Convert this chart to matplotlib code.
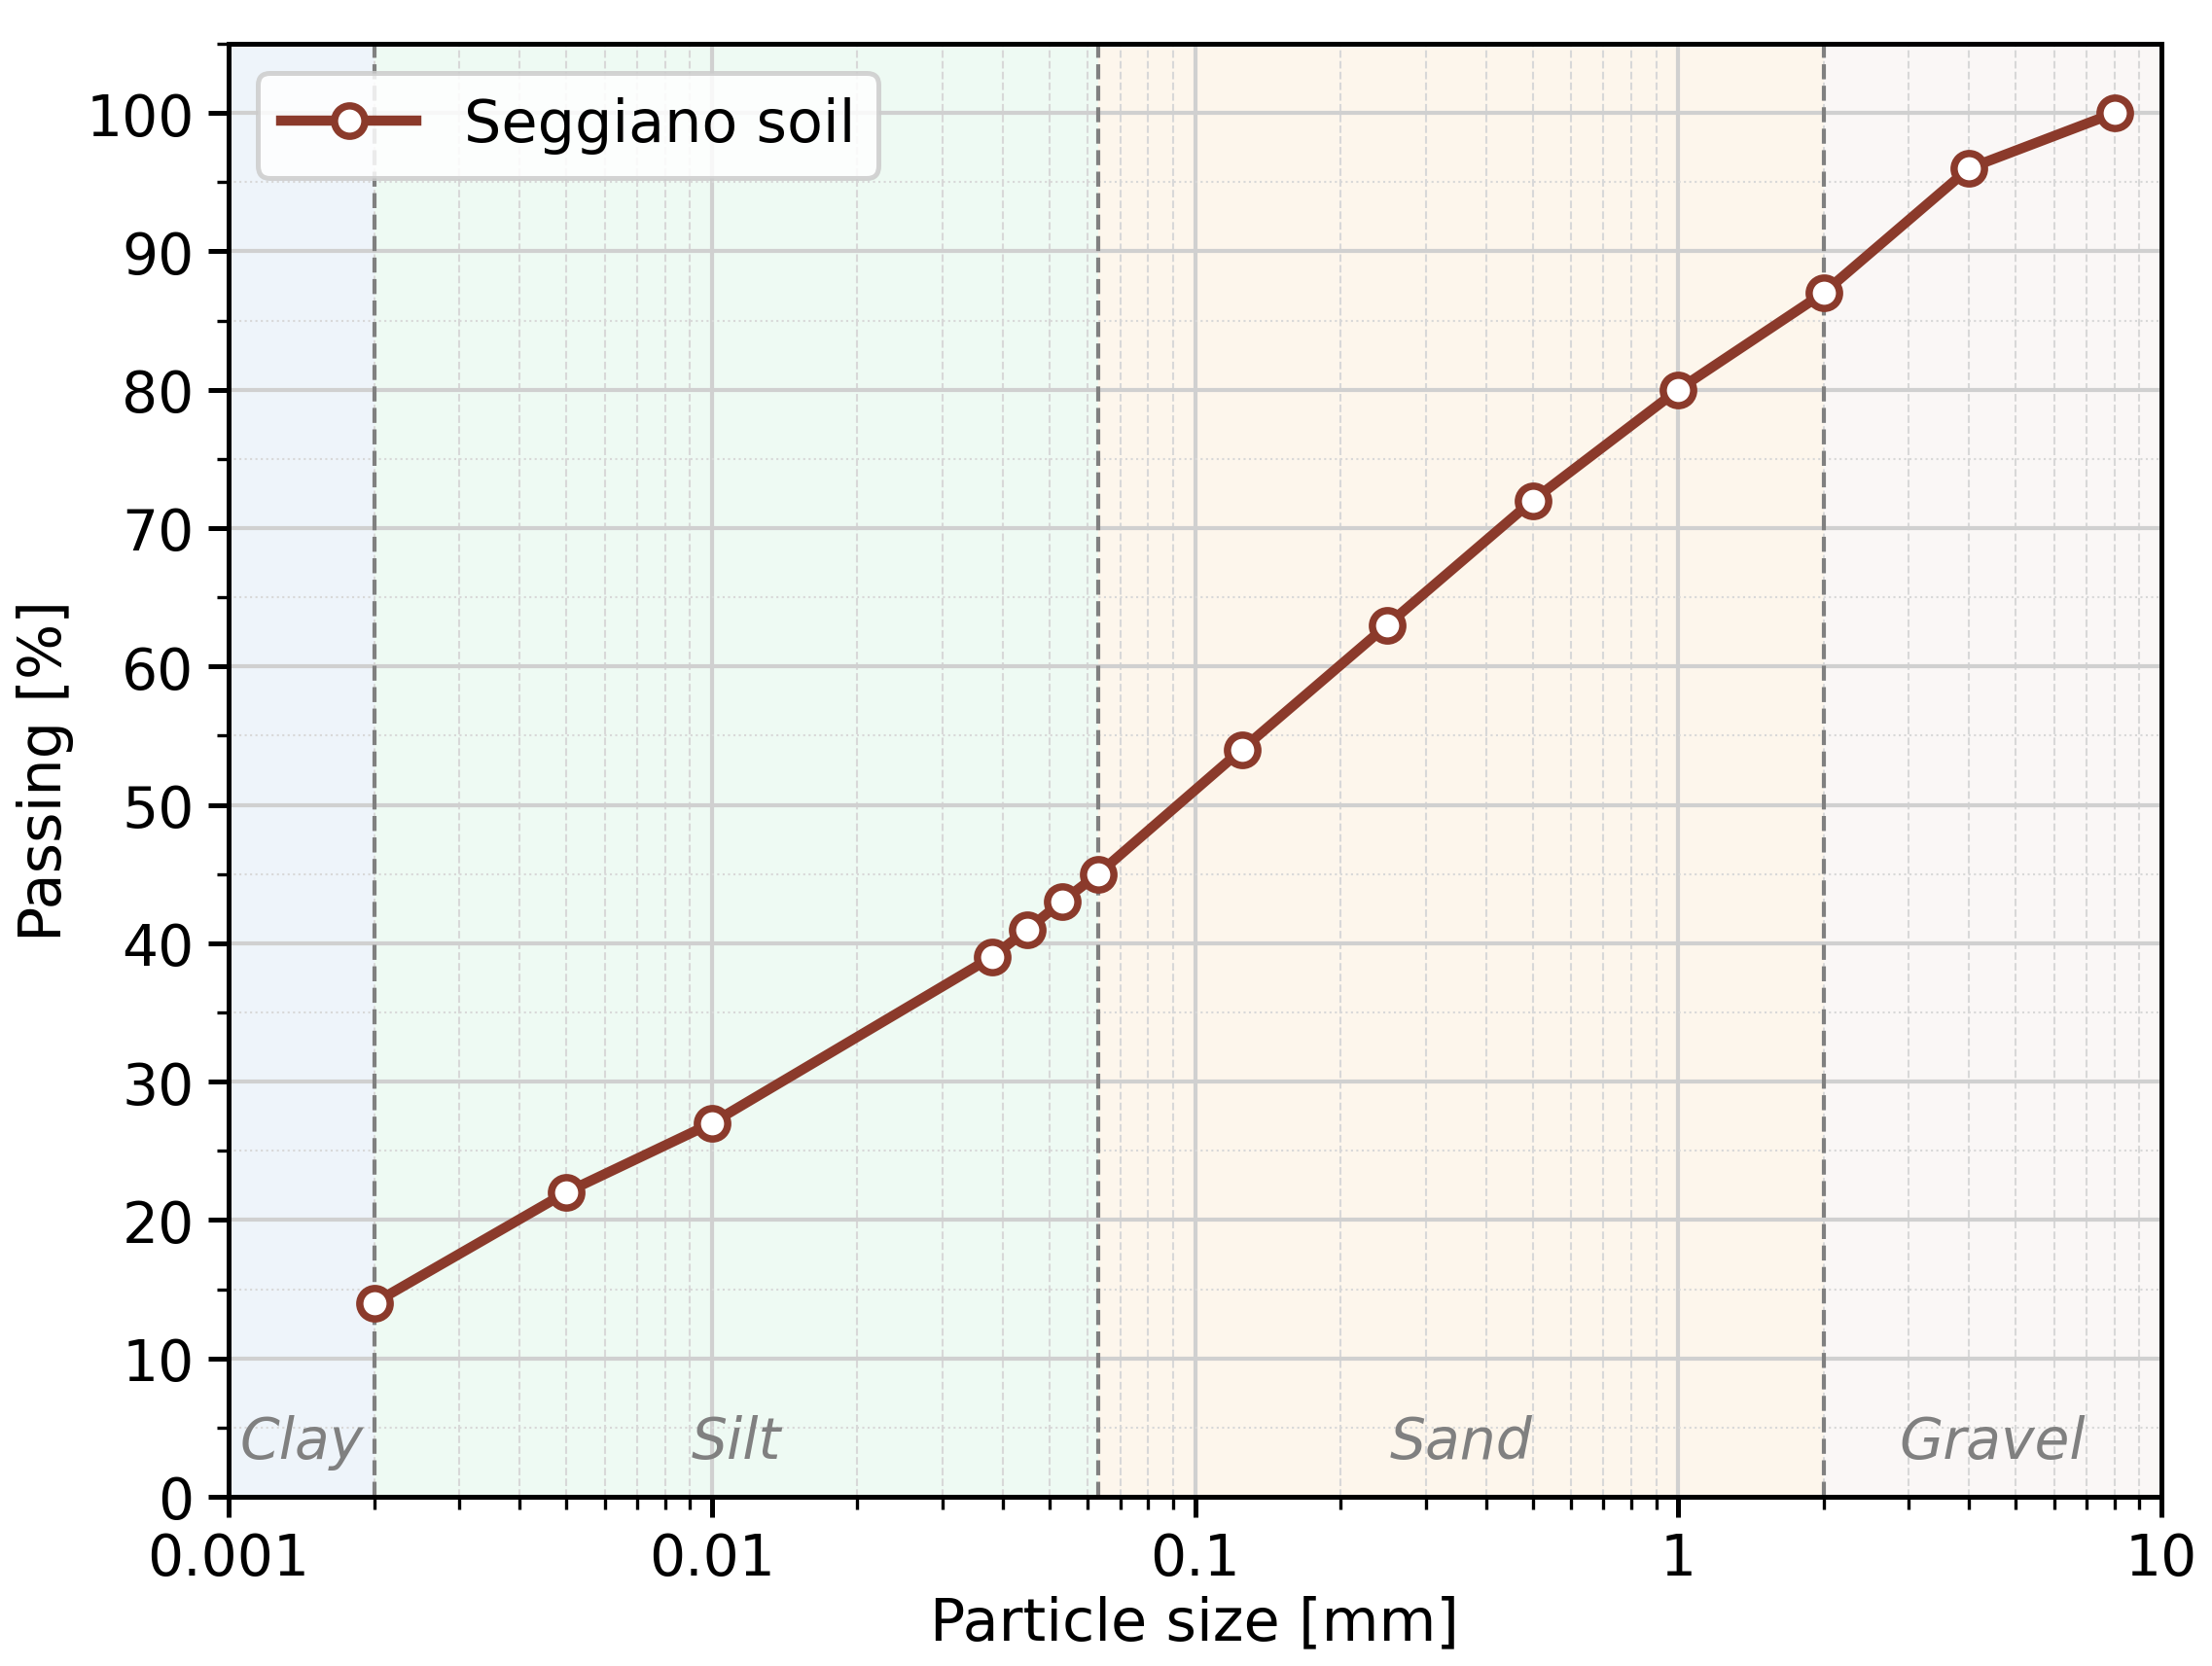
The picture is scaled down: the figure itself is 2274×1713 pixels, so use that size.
import matplotlib
matplotlib.use("Agg")
import matplotlib.pyplot as plt
import numpy as np
from matplotlib.ticker import LogLocator, MultipleLocator, FixedLocator, FixedFormatter, NullFormatter

# Data
particle_size = [0.002, 0.005, 0.01, 0.038, 0.045, 0.053, 0.063, 0.125, 0.25, 0.5, 1, 2, 4, 8]
passing = [14, 22, 27, 39, 41, 43, 45, 54, 63, 72, 80, 87, 96, 100]
series_name = "Seggiano soil"

region_names = ["Clay", "Silt", "Sand", "Gravel"]
region_bounds = [0.001, 0.002, 0.063, 2, 10]
region_colors = ["#eef4fa", "#eefaf3", "#fdf6ec", "#faf7f6"]

x_ticks = [0.001, 0.01, 0.1, 1, 10]
x_tick_labels = ["0.001", "0.01", "0.1", "1", "10"]

fig = plt.figure(figsize=(2274/300, 1714/300), dpi=300)
ax = fig.add_axes([235/2274, 1-1540/1714, (2222-235)/2274, (1540-46)/1714])

ax.set_xscale("log")
ax.set_xlim(0.001, 10)
ax.set_ylim(0, 105)

for i, name in enumerate(region_names):
    lo, hi = region_bounds[i], region_bounds[i+1]
    ax.axvspan(lo, hi, color=region_colors[i], zorder=0, lw=0)
    ax.text(np.sqrt(lo*hi), 4, name, ha="center", va="center", fontsize=14,
            style="italic", color="#808080", zorder=1)

for b in region_bounds[1:-1]:
    ax.axvline(b, color="#808080", ls="--", lw=1.0, zorder=1.5)

ax.grid(True, which="major", color="#d0d0d0", lw=1.0, ls="-", zorder=0.5)
ax.xaxis.set_minor_locator(LogLocator(base=10, subs=np.arange(2, 10)))
ax.xaxis.set_minor_formatter(NullFormatter())
ax.yaxis.set_major_locator(MultipleLocator(10))
ax.yaxis.set_minor_locator(MultipleLocator(5))
ax.grid(True, which="minor", axis="x", color="#d8d8d8", lw=0.5, ls="--", zorder=0.5)
ax.grid(True, which="minor", axis="y", color="#d8d8d8", lw=0.5, ls=":", zorder=0.5)
ax.set_axisbelow(True)

ax.xaxis.set_major_locator(FixedLocator(x_ticks))
ax.xaxis.set_major_formatter(FixedFormatter(x_tick_labels))

ax.plot(particle_size, passing, color="#8b3a2b", lw=2.5, marker="o", markersize=7.5,
        markerfacecolor="white", markeredgecolor="#8b3a2b", markeredgewidth=1.8,
        label=series_name, zorder=3)

ax.tick_params(axis="both", which="major", labelsize=14, width=1.2, length=5)
ax.tick_params(axis="both", which="minor", width=0.8, length=3)
for s in ax.spines.values():
    s.set_linewidth(1.2)

ax.set_xlabel("Particle size [mm]", fontsize=14.5, labelpad=2)
ax.set_ylabel("Passing [%]", fontsize=14.5, labelpad=3)

leg = ax.legend(loc="upper left", fontsize=14.5, frameon=True, fancybox=True,
                framealpha=0.85, edgecolor="#cccccc", handlelength=2.3)
leg.get_frame().set_linewidth(1.2)

fig.savefig("out.png", dpi=300)
